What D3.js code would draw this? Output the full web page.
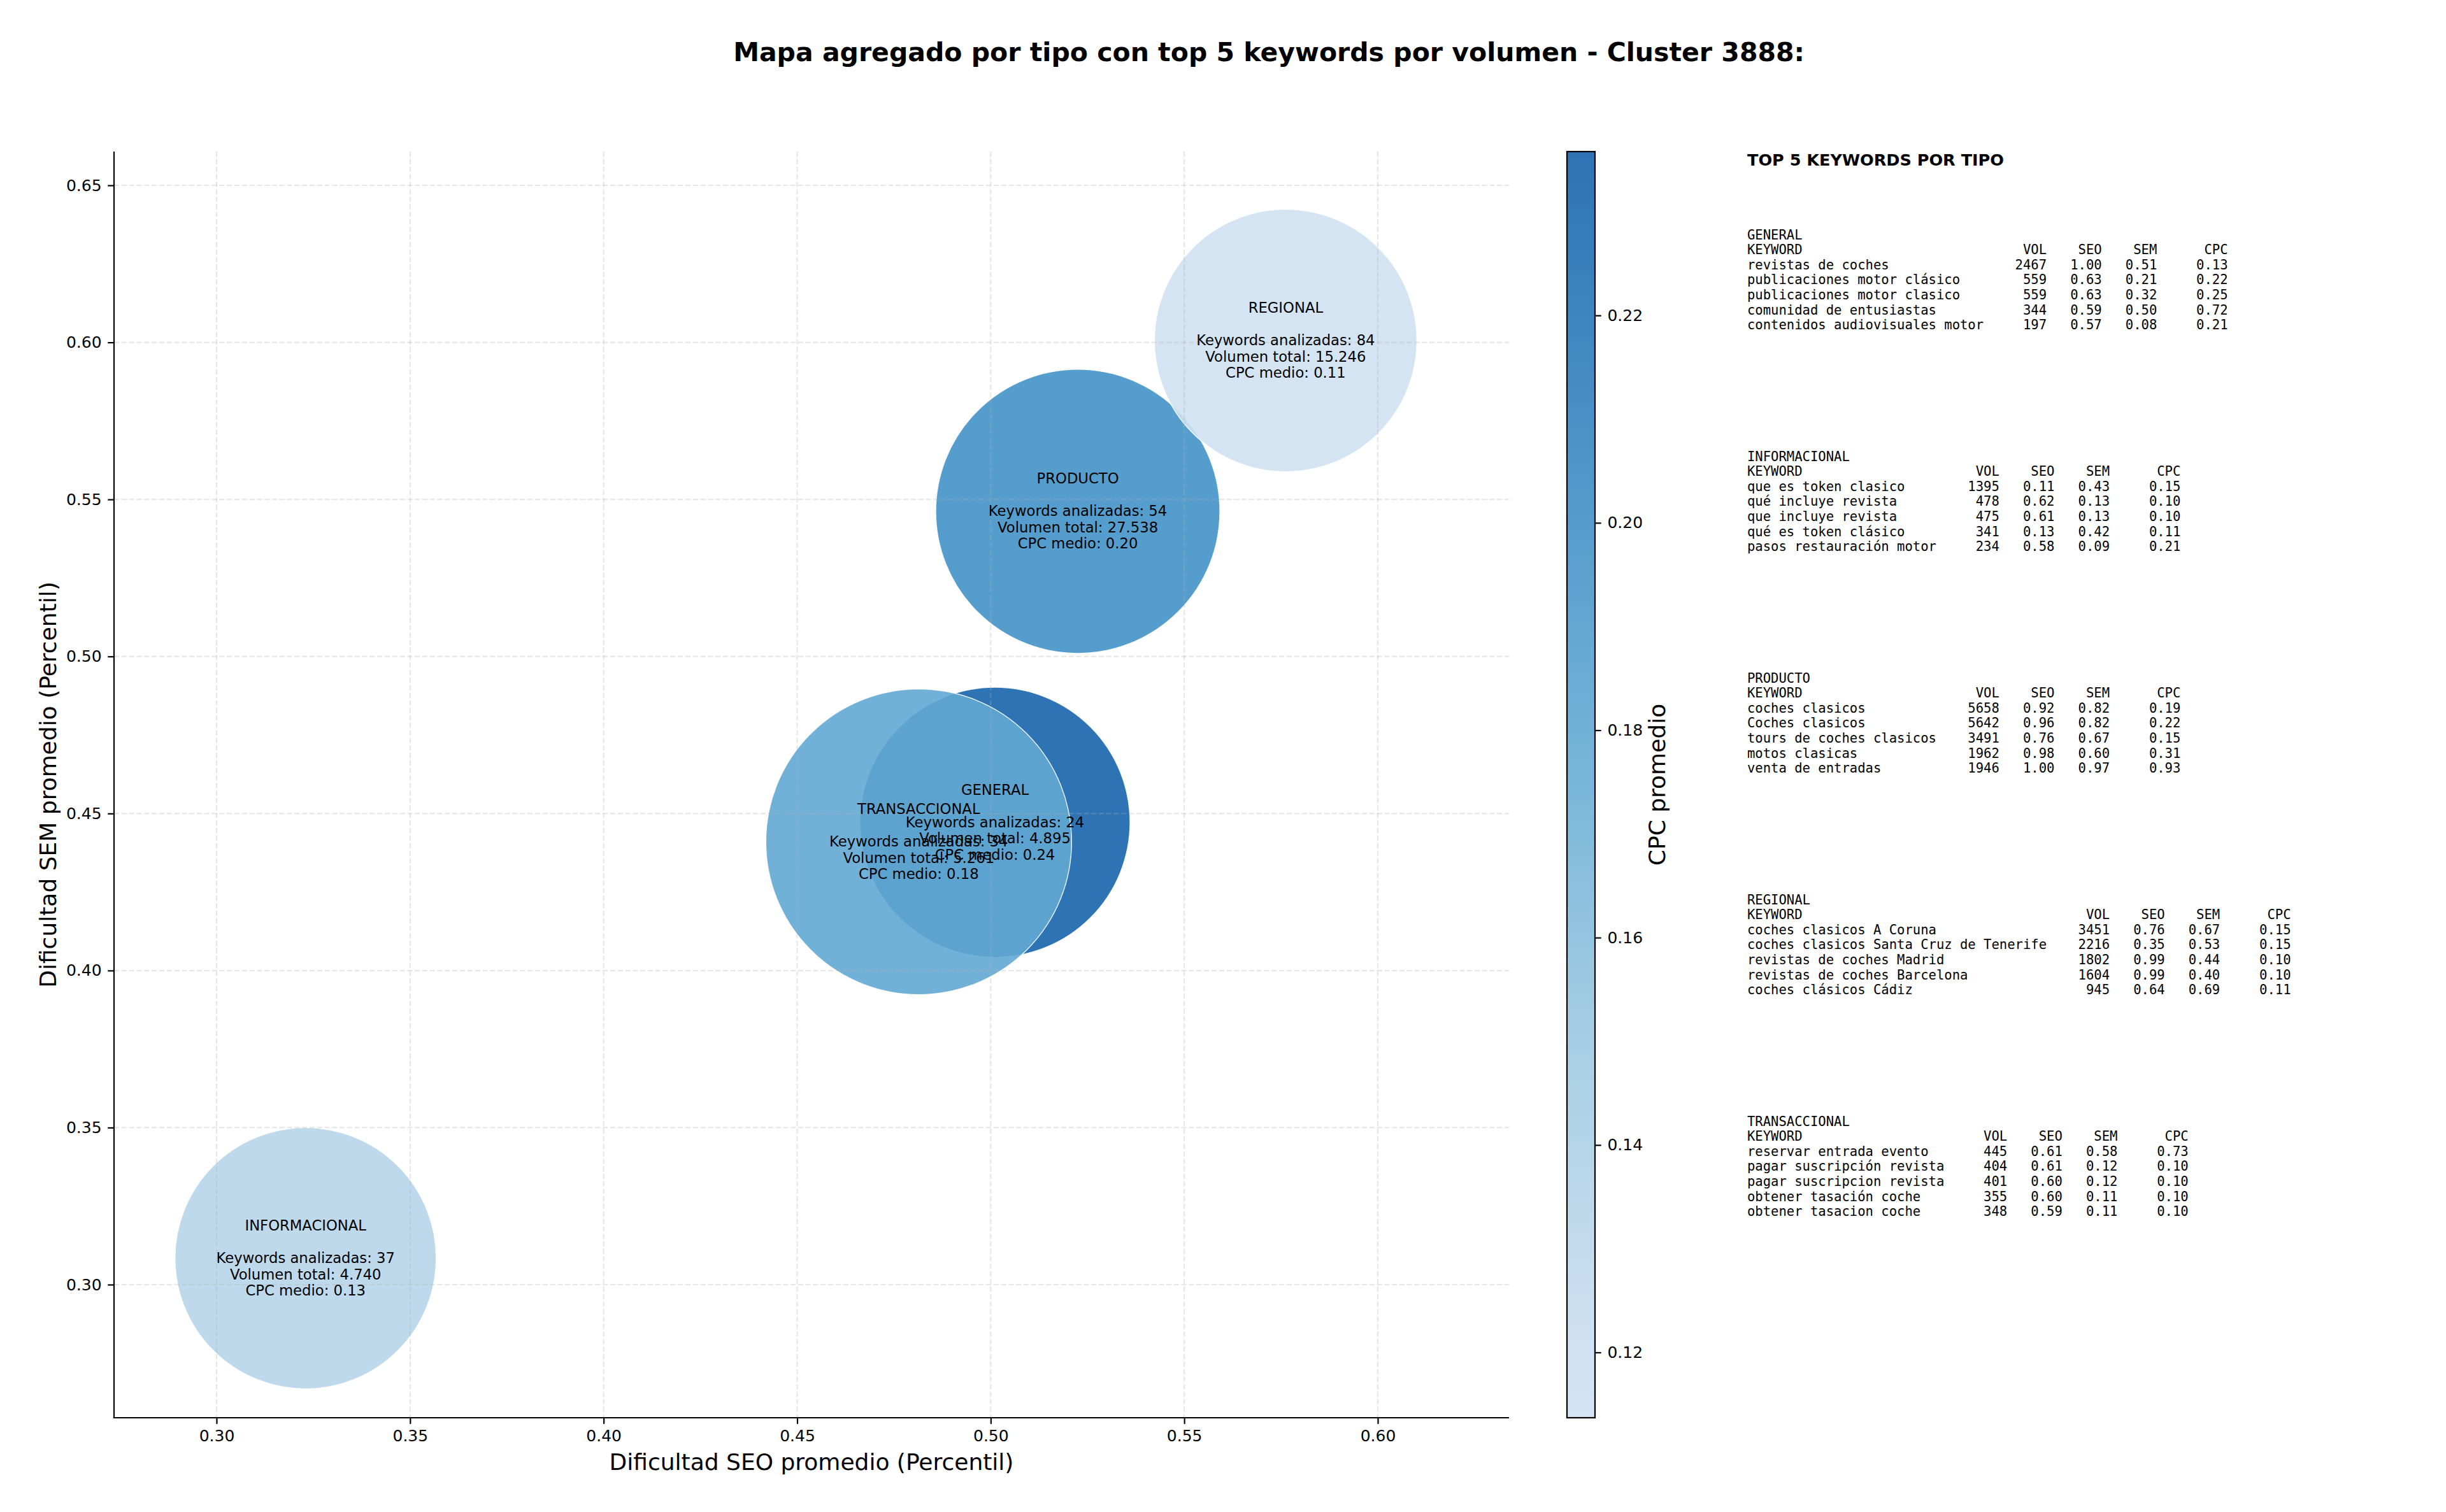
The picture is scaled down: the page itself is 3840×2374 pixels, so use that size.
<!DOCTYPE html>
<html><head><meta charset="utf-8">
<script src="https://cdn.jsdelivr.net/npm/d3@7"></script>
<style>
body{margin:0;background:#fff}
svg text{font-family:"DejaVu Sans",sans-serif;fill:#000}
.mono{font-family:"DejaVu Sans Mono",monospace;white-space:pre}
</style>
</head><body>
<svg id="chart" width="3840" height="2374"></svg>
<script>
// ---------------- DATA ----------------
const types     = ["GENERAL","INFORMACIONAL","PRODUCTO","REGIONAL","TRANSACCIONAL"];
const seoMean   = [0.5011, 0.3230, 0.5225, 0.5762, 0.4814];
const semMean   = [0.4472, 0.3084, 0.5462, 0.6006, 0.4410];
const cpcMean   = [0.2358, 0.1330, 0.2000, 0.1137, 0.1800];
const kwCount   = [24, 37, 54, 84, 34];
const volTotal  = [4895, 4740, 27538, 15246, 5261];
const markerSize = [23300, 21790, 25780, 22000, 29860]; // marker area (pt^2)

const xTicks = [0.30, 0.35, 0.40, 0.45, 0.50, 0.55, 0.60];
const yTicks = [0.30, 0.35, 0.40, 0.45, 0.50, 0.55, 0.60, 0.65];
const cTicks = [0.12, 0.14, 0.16, 0.18, 0.20, 0.22];

const kwNames = [
  ["revistas de coches","publicaciones motor clásico","publicaciones motor clasico","comunidad de entusiastas","contenidos audiovisuales motor"],
  ["que es token clasico","qué incluye revista","que incluye revista","qué es token clásico","pasos restauración motor"],
  ["coches clasicos","Coches clasicos","tours de coches clasicos","motos clasicas","venta de entradas"],
  ["coches clasicos A Coruna","coches clasicos Santa Cruz de Tenerife","revistas de coches Madrid","revistas de coches Barcelona","coches clásicos Cádiz"],
  ["reservar entrada evento","pagar suscripción revista","pagar suscripcion revista","obtener tasación coche","obtener tasacion coche"]
];
const kwVol = [[2467,559,559,344,197],[1395,478,475,341,234],[5658,5642,3491,1962,1946],[3451,2216,1802,1604,945],[445,404,401,355,348]];
const kwSeo = [[1.00,0.63,0.63,0.59,0.57],[0.11,0.62,0.61,0.13,0.58],[0.92,0.96,0.76,0.98,1.00],[0.76,0.35,0.99,0.99,0.64],[0.61,0.61,0.60,0.60,0.59]];
const kwSem = [[0.51,0.21,0.32,0.50,0.08],[0.43,0.13,0.13,0.42,0.09],[0.82,0.82,0.67,0.60,0.97],[0.67,0.53,0.44,0.40,0.69],[0.58,0.12,0.12,0.11,0.11]];
const kwCpc = [[0.13,0.22,0.25,0.72,0.21],[0.15,0.10,0.10,0.11,0.21],[0.19,0.22,0.15,0.31,0.93],[0.15,0.15,0.10,0.10,0.11],[0.73,0.10,0.10,0.10,0.10]];

const titleText = "Mapa agregado por tipo con top 5 keywords por volumen - Cluster 3888:";
const xLabel = "Dificultad SEO promedio (Percentil)";
const yLabel = "Dificultad SEM promedio (Percentil)";
const cLabel = "CPC promedio";
const panelTitle = "TOP 5 KEYWORDS POR TIPO";

// ---------------- LAYOUT ----------------
const svg = d3.select("#chart");
const plot = {l:179, r:2369, t:238, b:2226};
const cbar = {l:2460, r:2504, t:238, b:2226};
const DPI = 200;
const pt = v => v*DPI/72;

const x = d3.scaleLinear().domain([0.27351, 0.63390]).range([plot.l, plot.r]);
const y = d3.scaleLinear().domain([0.25762, 0.66075]).range([plot.b, plot.t]);
const cpcDomain = d3.extent(cpcMean);
const cY = d3.scaleLinear().domain(cpcDomain).range([cbar.b, cbar.t]);
const rScale = d3.scaleSqrt().domain([0, d3.max(markerSize)]).range([0, pt(Math.sqrt(d3.max(markerSize)))/2]);

const bluesStops = ["#f7fbff","#deebf7","#c6dbef","#9ecae1","#6baed6","#4292c6","#2171b5","#08519c","#08306b"];
const blues = d3.piecewise(d3.interpolateRgb, bluesStops);
const norm = d3.scaleLinear().domain(cpcDomain).range([0,1]);
const cmap = v => blues(0.2 + 0.6*norm(v));
const ALPHA = 0.9;

const es = d3.formatLocale({decimal:",", thousands:".", grouping:[3], currency:["","€"]});
const fmtVol = es.format(",d");

// ---------------- BUBBLES ----------------
const idx = d3.range(types.length);
svg.append("g").selectAll("circle").data(idx).join("circle")
  .attr("cx", i => x(seoMean[i]))
  .attr("cy", i => y(semMean[i]))
  .attr("r", i => rScale(markerSize[i]))
  .attr("fill", i => cmap(cpcMean[i]))
  .attr("fill-opacity", ALPHA)
  .attr("stroke", "#ffffff")
  .attr("stroke-opacity", ALPHA)
  .attr("stroke-width", 1.4);

// ---------------- GRID (above bubbles, like matplotlib) ----------------
const grid = svg.append("g").attr("stroke","#b0b0b0").attr("stroke-opacity",0.3)
  .attr("stroke-width",2.2).attr("stroke-dasharray","8.2,3.6");
grid.selectAll(".gx").data(xTicks).join("line")
  .attr("x1", d=>x(d)).attr("x2", d=>x(d)).attr("y1", plot.t).attr("y2", plot.b);
grid.selectAll(".gy").data(yTicks).join("line")
  .attr("y1", d=>y(d)).attr("y2", d=>y(d)).attr("x1", plot.l).attr("x2", plot.r);

// ---------------- AXES ----------------
const fmt2 = d3.format(".2f");
const xAxis = d3.axisBottom(x).tickValues(xTicks).tickFormat(fmt2).tickSizeOuter(0).tickSizeInner(pt(3.5)).tickPadding(pt(3.5));
const yAxis = d3.axisLeft(y).tickValues(yTicks).tickFormat(fmt2).tickSizeOuter(0).tickSizeInner(pt(3.5)).tickPadding(pt(3.5));
const gx = svg.append("g").attr("transform",`translate(0,${plot.b})`).call(xAxis);
const gy = svg.append("g").attr("transform",`translate(${plot.l},0)`).call(yAxis);
[gx,gy].forEach(g=>{
  g.select(".domain").remove();
  g.selectAll(".tick line").attr("stroke","#000").attr("stroke-width",2.2);
  g.selectAll(".tick text").attr("font-family","DejaVu Sans").attr("font-size",25).attr("fill","#000");
});
svg.append("line").attr("x1",plot.l).attr("x2",plot.l).attr("y1",plot.t).attr("y2",plot.b+1.1)
  .attr("stroke","#000").attr("stroke-width",2.2);
svg.append("line").attr("x1",plot.l-1.1).attr("x2",plot.r).attr("y1",plot.b).attr("y2",plot.b)
  .attr("stroke","#000").attr("stroke-width",2.2);

svg.append("text").attr("x",(plot.l+plot.r)/2).attr("y",2308).attr("text-anchor","middle")
  .attr("font-size",36).text(xLabel);
svg.append("text").attr("transform",`translate(88,${(plot.t+plot.b)/2}) rotate(-90)`).attr("text-anchor","middle")
  .attr("font-size",36).text(yLabel);

// ---------------- BUBBLE LABELS ----------------
const fs = 22.7, lh = 25.5;
const lab = svg.append("g").attr("font-size",fs).attr("text-anchor","middle");
idx.forEach(i=>{
  const lines = [types[i], "", `Keywords analizadas: ${kwCount[i]}`, `Volumen total: ${fmtVol(volTotal[i])}`, `CPC medio: ${cpcMean[i].toFixed(2)}`];
  const cx = x(seoMean[i]), cy = y(semMean[i]);
  lines.forEach((s,k)=>{
    if(!s) return;
    lab.append("text").attr("x",cx).attr("y",cy+(k-2)*lh+fs*0.33).text(s);
  });
});

// ---------------- COLORBAR ----------------
const defs = svg.append("defs");
const grad = defs.append("linearGradient").attr("id","cb").attr("x1",0).attr("x2",0).attr("y1",1).attr("y2",0);
d3.range(0,1.0001,0.02).forEach(t=>{
  grad.append("stop").attr("offset",t).attr("stop-color",blues(0.2+0.6*t));
});
svg.append("rect").attr("x",cbar.l).attr("y",cbar.t).attr("width",cbar.r-cbar.l).attr("height",cbar.b-cbar.t)
  .attr("fill","url(#cb)").attr("fill-opacity",ALPHA);
svg.append("rect").attr("x",cbar.l).attr("y",cbar.t).attr("width",cbar.r-cbar.l).attr("height",cbar.b-cbar.t)
  .attr("fill","none").attr("stroke","#000").attr("stroke-width",2.2);
const cAxis = d3.axisRight(cY).tickValues(cTicks).tickFormat(fmt2).tickSizeOuter(0).tickSizeInner(pt(3.5)).tickPadding(pt(3.5));
const gc = svg.append("g").attr("transform",`translate(${cbar.r},0)`).call(cAxis);
gc.select(".domain").remove();
gc.selectAll(".tick line").attr("stroke","#000").attr("stroke-width",2.2);
gc.selectAll(".tick text").attr("font-family","DejaVu Sans").attr("font-size",25).attr("fill","#000");
svg.append("text").attr("transform",`translate(2614,${(cbar.t+cbar.b)/2}) rotate(-90)`).attr("text-anchor","middle")
  .attr("font-size",36).text(cLabel);

// ---------------- TITLE ----------------
svg.append("text").attr("x",1992).attr("y",96).attr("text-anchor","middle")
  .attr("font-size",41).attr("font-weight","bold").text(titleText);

// ---------------- KEYWORD PANEL ----------------
const px0 = 2743;
svg.append("text").attr("x",px0).attr("y",260).attr("font-size",25.5).attr("font-weight","bold").text(panelTitle);
const mfs = 20.55, mlh = 23.6, blockStep = 348, firstCap = 368;
const panel = svg.append("g").attr("class","mono").attr("font-size",mfs);
types.forEach((t,b)=>{
  const names = kwNames[b];
  const w = d3.max(names, s=>s.length);
  const lines = [t,
    "KEYWORD".padEnd(w) + "VOL".padStart(8) + "SEO".padStart(7) + "SEM".padStart(7) + "CPC".padStart(9)];
  names.forEach((n,k)=>{
    lines.push(n.padEnd(w) + String(kwVol[b][k]).padStart(8) + kwSeo[b][k].toFixed(2).padStart(7)
      + kwSem[b][k].toFixed(2).padStart(7) + kwCpc[b][k].toFixed(2).padStart(9));
  });
  lines.forEach((s,k)=>{
    panel.append("text").attr("class","mono").attr("x",px0)
      .attr("y", firstCap + b*blockStep + k*mlh + mfs*0.365).text(s);
  });
});
</script>
</body></html>
